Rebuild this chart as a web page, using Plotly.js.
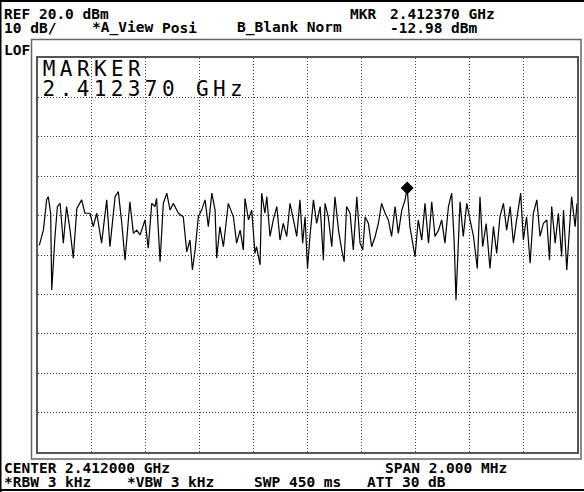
<!DOCTYPE html>
<html>
<head>
<meta charset="utf-8">
<script src="https://cdn.plot.ly/plotly-3.0.1.min.js"></script>
<style>
  html, body { margin: 0; padding: 0; background: #fff; }
  #chart { width: 584px; height: 492px; }
  .annotation[data-index="0"] text, .annotation[data-index="1"] text { letter-spacing: 4.4px; }
</style>
</head>
<body>
<div id="chart"></div>
<script>
// ---- data ----
const centerMHz = 2412.0;
const spanMHz = 2.0;
const refLevelDbm = 20;
const dbPerDiv = 10;

// sweep points: offset from start frequency (kHz) and measured level (dBm)
const offsetKHz = [
  5, 20, 32, 38, 47, 51, 63, 72, 82, 94, 106, 119, 131, 144, 162, 174, 193, 205, 218, 236,
  255, 267, 286, 298, 311, 323, 341, 354, 366, 379, 397, 409, 422, 434, 440, 453, 465, 478, 490, 502,
  521, 539, 552, 564, 573, 583, 595, 607, 620, 632, 645, 657, 663, 675, 688, 706,
  725, 737, 750, 762, 768, 781, 793, 805, 811, 824, 830, 842, 849, 861, 873, 886, 898, 910, 923, 935,
  948, 960, 972, 982, 991, 1000, 1009, 1022, 1034, 1047, 1059, 1065, 1077, 1090, 1102, 1115, 1127, 1136, 1145, 1158,
  1170, 1183, 1195, 1205, 1214, 1226, 1238, 1251, 1263, 1275, 1288, 1300, 1312, 1325, 1337, 1350, 1362, 1370, 1380, 1393,
  1399, 1411, 1424, 1436, 1449, 1461, 1473, 1486, 1498, 1510, 1523, 1535, 1544, 1551, 1560, 1566, 1578, 1591, 1603, 1616,
  1630, 1640, 1650, 1663, 1677, 1690, 1702, 1714, 1727, 1739, 1752, 1764, 1776, 1791, 1801, 1813, 1826, 1838, 1851, 1863,
  1875, 1888, 1898, 1906, 1919, 1931, 1943, 1950, 1962, 1974, 1980, 1993, 2000
];
const levelDbm = [
  -27.5, -23.7, -16.0, -15.2, -19.4, -38.9, -25.3, -17.7, -16.9, -27.0, -17.7, -23.7, -30.8, -18.2, -16.0, -19.4, -19.4, -22.8, -19.4, -27.0,
  -16.0, -27.9, -15.2, -13.9, -22.0, -31.3, -16.5, -24.5, -23.7, -24.9, -21.1, -28.3, -16.9, -17.7, -15.6, -31.7, -16.9, -14.3, -18.6, -16.9,
  -19.4, -20.3, -29.2, -26.2, -33.8, -28.7, -20.3, -18.6, -16.0, -22.8, -14.3, -18.6, -30.8, -22.8, -27.9, -16.9,
  -20.3, -27.0, -23.7, -28.7, -15.6, -21.1, -18.6, -29.6, -27.9, -32.5, -14.3, -19.4, -15.2, -25.3, -21.1, -17.7, -26.2, -22.0, -25.3, -16.9,
  -21.1, -25.3, -16.0, -27.0, -20.3, -33.4, -25.3, -16.0, -22.0, -17.7, -31.3, -16.9, -20.3, -27.9, -15.2, -23.7, -28.7, -31.7, -17.7, -19.4,
  -28.7, -15.2, -27.0, -28.7, -20.3, -22.0, -27.9, -25.3, -22.0, -16.9, -19.4, -21.1, -25.3, -17.7, -24.5, -18.6, -16.0, -12.98, -22.8, -27.9,
  -30.4, -21.1, -26.2, -16.9, -27.0, -16.5, -25.3, -23.7, -21.1, -27.0, -17.7, -14.3, -26.2, -41.4, -28.7, -16.5, -25.3, -16.9, -21.1, -25.3,
  -33.4, -15.2, -27.9, -22.0, -33.4, -22.8, -29.6, -20.3, -16.9, -23.7, -17.7, -27.0, -21.1, -14.3, -26.2, -20.3, -32.1, -19.4, -16.0, -25.3,
  -22.0, -21.1, -31.3, -17.7, -27.0, -19.4, -30.4, -18.6, -33.8, -21.1, -15.2, -22.8, -16.9
];

const markerMHz = [2412.370];
const markerDbm = [-12.98];

const headerTexts = ["REF 20.0 dBm", "10 dB/", "*A_View", "Posi", "B_Blank Norm", "MKR", "2.412370 GHz", "-12.98 dBm", "LOF"];
const footerTexts = ["CENTER 2.412000 GHz", "SPAN 2.000 MHz", "*RBW 3 kHz", "*VBW 3 kHz", "SWP 450 ms", "ATT 30 dB"];
const markerTexts = ["MARKER", "2.412370 GHz"];

// ---- layout helpers (pixel -> paper) ----
const W = 584, H = 492;
const L = 38, R = 577, T = 58, B = 452;
const px2x = p => (p - L) / (R - L);
const py2y = p => (B - p) / (B - T);

const startMHz = centerMHz - spanMHz / 2;
const xs = offsetKHz.map(k => startMHz + k / 1000);

const mono = "DejaVu Sans Mono, monospace";
function label(text, x, yc, size, weight, spacing) {
  const shift = spacing ? text.length * spacing / 2 : 0;
  return {
    text: text, xref: 'paper', yref: 'paper',
    x: px2x(x - 2 + shift), y: py2y(yc), xanchor: 'left', yanchor: 'middle',
    showarrow: false,
    font: { family: mono, size: size || 14.5, color: '#000', weight: weight || 'bold' }
  };
}

const annotations = [
  label(markerTexts[0], 43, 68.5, 21, 'normal', 4.4),
  label(markerTexts[1], 43, 88.5, 21, 'normal', 4.4),
  label(headerTexts[0], 4, 14),
  label(headerTexts[1], 4, 27.5),
  label(headerTexts[2], 92, 27.5),
  label(headerTexts[3], 162, 27.5),
  label(headerTexts[4], 237, 27.5),
  label(headerTexts[5], 350, 14),
  label(headerTexts[6], 390, 14),
  label(headerTexts[7], 390, 27.5),
  label(headerTexts[8], 4, 50),
  label(footerTexts[0], 4, 468),
  label(footerTexts[1], 385, 468),
  label(footerTexts[2], 4, 481.5),
  label(footerTexts[3], 127, 481.5),
  label(footerTexts[4], 254, 481.5),
  label(footerTexts[5], 367, 481.5)
];

function hline(y, x0, x1, color, w) {
  return { type: 'line', xref: 'paper', yref: 'paper', x0: px2x(x0), x1: px2x(x1), y0: py2y(y), y1: py2y(y), line: { color: color, width: w } };
}
function vline(x, y0, y1, color, w) {
  return { type: 'line', xref: 'paper', yref: 'paper', x0: px2x(x), x1: px2x(x), y0: py2y(y0), y1: py2y(y1), line: { color: color, width: w } };
}

const shapes = [
  hline(1, 0, 584, '#000', 2),
  hline(490, 0, 584, '#000', 2),
  vline(0.5, 0, 492, '#000', 2),
  { type: 'rect', xref: 'paper', yref: 'paper', x0: px2x(31.5), x1: px2x(581), y0: py2y(459), y1: py2y(39.5), line: { color: '#666', width: 1.5 } }
];

const traces = [
  { type: 'scatter', mode: 'lines', x: xs, y: levelDbm, line: { color: '#000', width: 1.2 }, hoverinfo: 'skip' },
  { type: 'scatter', mode: 'markers', x: markerMHz, y: markerDbm, marker: { symbol: 'diamond', size: 10, color: '#000' }, hoverinfo: 'skip' }
];

const layout = {
  width: W, height: H,
  margin: { l: L, r: W - R, t: T, b: H - B, pad: 0 },
  paper_bgcolor: '#fff', plot_bgcolor: '#fff',
  showlegend: false,
  xaxis: {
    range: [startMHz, startMHz + spanMHz], dtick: spanMHz / 10, tick0: startMHz,
    showticklabels: false, ticks: '', zeroline: false,
    showgrid: true, gridcolor: '#444', gridwidth: 1, griddash: '1px,2px',
    showline: true, mirror: true, linecolor: '#555', linewidth: 2
  },
  yaxis: {
    range: [refLevelDbm - 10 * dbPerDiv, refLevelDbm], dtick: dbPerDiv, tick0: refLevelDbm,
    showticklabels: false, ticks: '', zeroline: false,
    showgrid: true, gridcolor: '#444', gridwidth: 1, griddash: '1px,2px',
    showline: true, mirror: true, linecolor: '#555', linewidth: 2
  },
  annotations: annotations,
  shapes: shapes
};

Plotly.newPlot('chart', traces, layout, { staticPlot: true, displayModeBar: false });
</script>
</body>
</html>
